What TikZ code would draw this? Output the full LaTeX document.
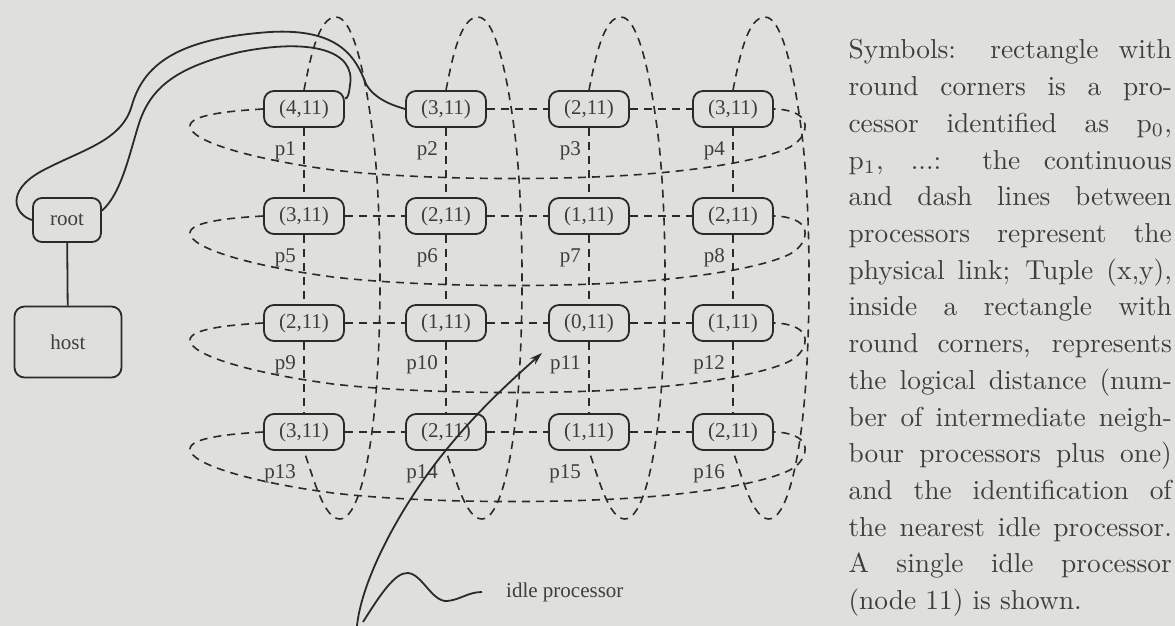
\documentclass[tikz,border=0pt]{standalone}
\usepackage{fontspec}
\newfontfamily\diagfont{Liberation Serif}
\usetikzlibrary{arrows.meta,calc}
\definecolor{paper}{RGB}{223,223,219}
\definecolor{ink}{RGB}{42,42,42}
\definecolor{print}{RGB}{62,62,62}
% one justified line of the explanation
\newcommand{\jline}[1]{\makebox[118pt][s]{\spaceskip=0pt\xspaceskip=0pt #1}\\}
\begin{document}
\begin{tikzpicture}[x=1pt,y=-1pt,
  proc/.style={draw=ink,fill=paper,line width=1.8pt,rounded corners=10pt,
    minimum width=80pt,minimum height=36pt,inner sep=0pt,
    font=\diagfont\fontsize{21}{24}\selectfont,text=print},
  plabel/.style={anchor=east,inner sep=0pt,
    font=\diagfont\fontsize{21}{24}\selectfont,text=print},
  link/.style={draw=ink,line width=1.6pt,dash pattern=on 8pt off 6pt},
  wire/.style={draw=ink,line width=1.8pt},
  hostbox/.style={draw=ink,line width=1.8pt,rounded corners=10pt,inner sep=0pt,
    font=\diagfont\fontsize{21}{24}\selectfont,text=print},
]
\fill[paper] (0,0) rectangle (1175,626);
\useasboundingbox (0,0) rectangle (1175,626);

% host and root
\node[hostbox,minimum width=68pt,minimum height=44pt,rounded corners=9pt] (root) at (67,220) {root};
\node[hostbox,minimum width=107pt,minimum height=71pt] (host) at (68,342) {host};
\draw[wire] (root) -- (host);

% processors of the 4x4 torus
\node[proc] (p1)  at (304,109) {(4,11)};
\node[proc] (p2)  at (446,109) {(3,11)};
\node[proc] (p3)  at (589,109) {(2,11)};
\node[proc] (p4)  at (733,109) {(3,11)};
\node[proc] (p5)  at (304,216) {(3,11)};
\node[proc] (p6)  at (446,216) {(2,11)};
\node[proc] (p7)  at (589,216) {(1,11)};
\node[proc] (p8)  at (733,216) {(2,11)};
\node[proc] (p9)  at (304,323) {(2,11)};
\node[proc] (p10) at (446,323) {(1,11)};
\node[proc] (p11) at (589,323) {(0,11)};
\node[proc] (p12) at (733,323) {(1,11)};
\node[proc] (p13) at (304,432) {(3,11)};
\node[proc] (p14) at (446,432) {(2,11)};
\node[proc] (p15) at (589,432) {(1,11)};
\node[proc] (p16) at (733,432) {(2,11)};

% processor names
\foreach \n in {1,...,16}{
  \node[plabel] (lab\n) at ($(p\n.center)+(-8,42)$) {p\n};
}

% links inside each row
\foreach \a/\b in {p2/p3,p3/p4,p5/p6,p6/p7,p7/p8,p9/p10,p10/p11,p11/p12,p13/p14,p14/p15,p15/p16}
  \draw[link] (\a) -- (\b);
% links inside each column
\foreach \a/\b in {p1/p5,p5/p9,p9/p13,p2/p6,p6/p10,p10/p14,p3/p7,p7/p11,p11/p15,p4/p8,p8/p12,p12/p16}
  \draw[link] (\a) -- (\b);

% wrap-around rings of the rows
\foreach \a/\b/\cy in {p1/p4/109,p5/p8/216,p9/p12/323,p13/p16/432}
  \draw[link] (\a.west) .. controls (228,\cy+2) and (190,\cy+6) .. (190,\cy+17)
    .. controls (190,\cy+32) and (250,\cy+50) .. (333,\cy+61)
    .. controls (410,\cy+70) and (520,\cy+71) .. (593,\cy+68)
    .. controls (680,\cy+65) and (760,\cy+53) .. (790,\cy+38)
    .. controls (808,\cy+28) and (808,\cy+12) .. (800,\cy+7)
    .. controls (795,\cy+3) and (785,\cy) .. (\b.east);

% wrap-around rings of the columns
\foreach \a/\b/\cx in {p1/p13/304,p2/p14/446,p3/p15/589,p4/p16/733}
  \draw[link] (\a.north) .. controls (\cx+6,60) and (\cx+14,17) .. (\cx+32,17)
    .. controls (\cx+50,17) and (\cx+62,80) .. (\cx+69,135)
    .. controls (\cx+78,210) and (\cx+78,330) .. (\cx+71,405)
    .. controls (\cx+65,470) and (\cx+52,519) .. (\cx+36,519)
    .. controls (\cx+20,519) and (\cx+10,480) .. (\b.south);

% physical links from the root
\draw[wire] (root.west) .. controls (15,215) and (5,192) .. (40,172)
  .. controls (80,150) and (122,142) .. (132,105)
  .. controls (145,60) and (185,38) .. (270,32)
  .. controls (340,28) and (356,58) .. (366,84)
  .. controls (375,100) and (395,106) .. (p2.west);
\draw[wire] (root.15) .. controls (120,195) and (128,160) .. (137,130)
  .. controls (148,90) and (172,68) .. (240,52)
  .. controls (310,38) and (356,50) .. (350,85)
  .. controls (349,95) and (347,100) .. (p1.15);

% pointer to the idle processor
\coordinate (foot) at (357,626);
\coordinate (wavefoot) at (363,622);
\node[plabel,anchor=west] (idle) at (506,592) {idle processor};
\draw[wire,-{Stealth[length=13pt,width=8pt]}] (foot)
  .. controls (361,585) and (392,522) .. (432,468)
  .. controls (468,420) and (505,386) .. ($(p11.south west)+(-6,11)$);
\draw[wire] (wavefoot) .. controls (380,595) and (395,572) .. (408,573)
  .. controls (422,574) and (432,602) .. (447,601)
  .. controls (460,600) and (468,592) .. ($(idle.west)+(-24,0)$);

% explanation beside the figure
\node[anchor=north west,inner sep=0pt,scale=2.74,text width=118pt,align=left,
  font=\fontsize{10}{13.4}\selectfont,text=print] (legend) at (848,39) {%
  \jline{Symbols: rectangle with}
  \jline{round corners is a pro-}
  \jline{cessor identified as p\textsubscript{0},}
  \jline{p\textsubscript{1}, ...: the continuous}
  \jline{and dash lines between}
  \jline{processors represent the}
  \jline{physical link; Tuple (x,y),}
  \jline{inside a rectangle with}
  \jline{round corners, represents}
  \jline{the logical distance (num-}
  \jline{ber of intermediate neigh-}
  \jline{bour processors plus one)}
  \jline{and the identification of}
  \jline{the nearest idle processor.}
  \jline{A single idle processor}
  (node 11) is shown.};
\end{tikzpicture}
\end{document}
